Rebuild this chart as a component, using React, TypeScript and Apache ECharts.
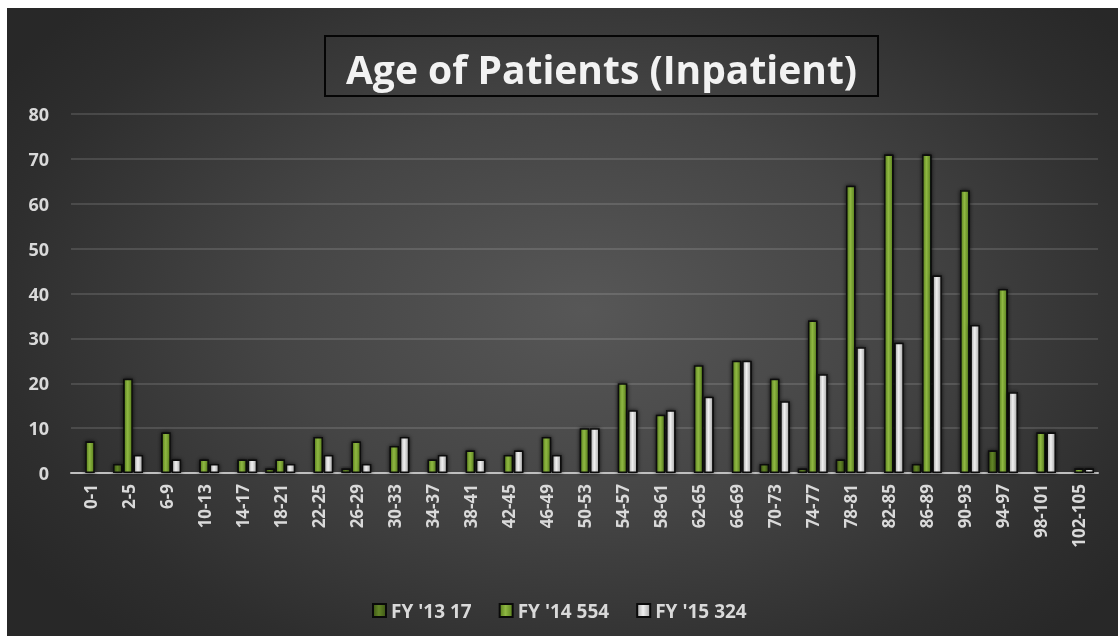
import React, { useEffect, useRef } from "react";
import * as echarts from "echarts";

const categories = [
  "0-1", "2-5", "6-9", "10-13", "14-17", "18-21", "22-25", "26-29", "30-33",
  "34-37", "38-41", "42-45", "46-49", "50-53", "54-57", "58-61", "62-65",
  "66-69", "70-73", "74-77", "78-81", "82-85", "86-89", "90-93", "94-97",
  "98-101", "102-105",
];

const fy13 = [0, 2, 0, 0, 0, 1, 0, 1, 0, 0, 0, 0, 0, 0, 0, 0, 0, 0, 2, 1, 3, 0, 2, 0, 5, 0, 0];
const fy14 = [7, 21, 9, 3, 3, 3, 8, 7, 6, 3, 5, 4, 8, 10, 20, 13, 24, 25, 21, 34, 64, 71, 71, 63, 41, 9, 1];
const fy15 = [0, 4, 3, 2, 3, 2, 4, 2, 8, 4, 3, 5, 4, 10, 14, 14, 17, 25, 16, 22, 28, 29, 44, 33, 18, 9, 1];

const seriesNames = ["FY '13 17", "FY '14 554", "FY '15 324"];
const yTicks = { min: 0, max: 80, interval: 10 };
const titleText = "Age of Patients (Inpatient)";

const grad = (edge: string, mid: string) => ({
  type: "linear",
  x: 0,
  y: 0,
  x2: 1,
  y2: 0,
  colorStops: [
    { offset: 0, color: edge },
    { offset: 0.45, color: mid },
    { offset: 1, color: edge },
  ],
});

export default function App() {
  const ref = useRef<HTMLDivElement>(null);
  useEffect(() => {
    if (!ref.current) return;
    const chart = echarts.init(ref.current, null, { renderer: "svg" });
    const fills = [
      grad("#3e5615", "#628527"),
      grad("#5a801e", "#8fb842"),
      grad("#a8a8a8", "#f0f0f0"),
    ];
    const data = [fy13, fy14, fy15];
    chart.setOption({
      animation: false,
      backgroundColor: "transparent",
      textStyle: { fontFamily: "Open Sans" },
      grid: { left: 64, right: 20, top: 106, bottom: 163 },
      graphic: [
        {
          type: "rect",
          shape: { x: 318, y: 28, width: 553, height: 60 },
          style: { fill: "rgba(0,0,0,0)", stroke: "#050505", lineWidth: 2 },
        },
        {
          type: "text",
          x: 594.5,
          y: 60,
          style: {
            text: titleText,
            fontFamily: "Open Sans",
            fontSize: 39,
            fontWeight: "bold",
            fill: "#f2f2f2",
            align: "center",
            verticalAlign: "middle",
            shadowColor: "rgba(0,0,0,0.8)",
            shadowBlur: 4,
            shadowOffsetX: 1,
            shadowOffsetY: 2,
          },
        },
      ],
      legend: {
        left: 365,
        top: 593,
        padding: 0,
        icon: "rect",
        itemWidth: 13,
        itemHeight: 13,
        itemGap: 27,
        data: seriesNames,
        textStyle: {
          color: "#d9d9d9",
          fontSize: 19,
          fontWeight: "bold",
          fontFamily: "Open Sans",
        },
      },
      xAxis: {
        type: "category",
        data: categories,
        axisLine: { lineStyle: { color: "#bfbfbf", width: 2 } },
        axisTick: { show: false },
        axisLabel: {
          interval: 0,
          rotate: 90,
          margin: 11,
          color: "#d9d9d9",
          fontSize: 17,
          fontWeight: "bold",
          fontFamily: "Open Sans",
        },
      },
      yAxis: {
        type: "value",
        min: yTicks.min,
        max: yTicks.max,
        interval: yTicks.interval,
        axisLine: { show: false },
        axisTick: { show: false },
        splitLine: { lineStyle: { color: "rgba(255,255,255,0.17)", width: 1.5 } },
        axisLabel: {
          margin: 22,
          color: "#d9d9d9",
          fontSize: 18,
          fontWeight: "bold",
          fontFamily: "Open Sans",
        },
      },
      series: seriesNames.map((name, i) => ({
        name,
        type: "bar",
        barWidth: 9.5,
        barGap: "8%",
        data: data[i].map((v) => (v === 0 ? null : v)),
        itemStyle: {
          color: fills[i],
          borderColor: "#0a0a0a",
          borderWidth: 1.5,
          shadowColor: "rgba(0,0,0,0.85)",
          shadowBlur: 4,
        },
      })),
    });
    return () => chart.dispose();
  }, []);
  return (
    <div
      ref={ref}
      style={{
        position: "fixed",
        left: 7,
        top: 8,
        width: 1111,
        height: 628,
        background:
          "radial-gradient(ellipse 62% 70% at 52% 48%, #575757 0%, #454545 45%, #2e2e2e 85%, #282828 100%)",
      }}
    />
  );
}
